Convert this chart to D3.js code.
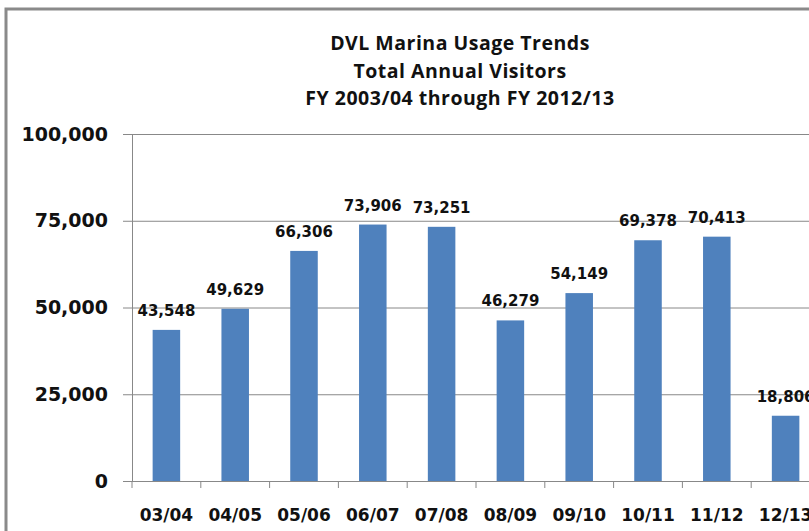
<!DOCTYPE html>
<html>
<head>
<meta charset="utf-8">
<script src="https://cdn.jsdelivr.net/npm/d3@7"></script>
<style>
  body { margin: 0; background: #fff; }
  svg { display: block; }
</style>
</head>
<body>
<div id="chart"></div>
<script>
// chart data
const years = ["03/04", "04/05", "05/06", "06/07", "07/08", "08/09", "09/10", "10/11", "11/12", "12/13"];
const visitors = [43548, 49629, 66306, 73906, 73251, 46279, 54149, 69378, 70413, 18806];
const yTicks = [0, 25000, 50000, 75000, 100000];
const titleLines = ["DVL Marina Usage Trends", "Total Annual Visitors", "FY 2003/04 through FY 2012/13"];

const width = 809, height = 531;
const margin = {top: 134, left: 132, bottom: 50};
const plotWidth = 688,
    plotHeight = height - margin.top - margin.bottom;

const svg = d3.select("#chart").append("svg")
    .attr("width", width)
    .attr("height", height);

// outer chart frame (runs off the right and bottom edge)
svg.append("rect")
    .attr("x", 6).attr("y", 9)
    .attr("width", width + 20).attr("height", height + 20)
    .attr("fill", "none")
    .attr("stroke", "#8a8a8a")
    .attr("stroke-width", 3);

// title
svg.append("g").selectAll("text")
    .data(titleLines)
    .join("text")
    .attr("x", 460)
    .attr("y", (d, i) => 50 + i * 27.5)
    .attr("text-anchor", "middle")
    .style("font-family", "'Open Sans', sans-serif")
    .style("font-weight", "bold")
    .style("font-size", "19.5px")
    .style("letter-spacing", "0.5px")
    .style("fill", "#111")
    .text(d => d);

const x = d3.scaleBand()
    .domain(years)
    .range([0, plotWidth])
    .paddingInner(0.6)
    .paddingOuter(0.3);

const y = d3.scaleLinear()
    .domain([0, 100000])
    .range([plotHeight, 0]);

const g = svg.append("g")
    .attr("transform", "translate(" + margin.left + "," + margin.top + ")");

// horizontal gridlines + y axis
const yAxis = g.append("g")
    .call(d3.axisLeft(y).tickValues(yTicks).tickSize(-plotWidth).tickPadding(24)
        .tickFormat(d3.format(",")));
yAxis.select(".domain").attr("stroke", "#888");
yAxis.selectAll(".tick line")
    .attr("stroke", "#888")
    .attr("x1", -9);
yAxis.selectAll("text")
    .style("font-family", "'DejaVu Sans', sans-serif")
    .style("font-weight", "bold")
    .style("font-size", "19px")
    .style("fill", "#111");

// x axis with ticks between categories
const xAxis = g.append("g")
    .attr("transform", "translate(0," + plotHeight + ")")
    .call(d3.axisBottom(x).tickSize(0).tickPadding(28));
xAxis.select(".domain").attr("stroke", "#888");
xAxis.selectAll("text")
    .style("font-family", "'DejaVu Sans', sans-serif")
    .style("font-weight", "bold")
    .style("font-size", "17px")
    .style("fill", "#111");

const step = x.step();
xAxis.selectAll(".sep")
    .data(d3.range(years.length + 1))
    .join("line")
    .attr("class", "sep")
    .attr("x1", d => d * step).attr("x2", d => d * step)
    .attr("y1", 0).attr("y2", 7)
    .attr("stroke", "#888");

// bars
g.selectAll(".bar")
    .data(years)
    .join("rect")
    .attr("class", "bar")
    .attr("x", d => x(d))
    .attr("width", x.bandwidth())
    .attr("y", (d, i) => y(visitors[i]))
    .attr("height", (d, i) => plotHeight - y(visitors[i]))
    .attr("fill", "#4f81bd");

// value labels
g.selectAll(".label")
    .data(years)
    .join("text")
    .attr("class", "label")
    .attr("x", d => x(d) + x.bandwidth() / 2)
    .attr("y", (d, i) => y(visitors[i]) - 14)
    .attr("text-anchor", "middle")
    .style("font-family", "'DejaVu Sans', sans-serif")
    .style("font-weight", "bold")
    .style("font-size", "15px")
    .style("fill", "#111")
    .text((d, i) => d3.format(",")(visitors[i]));
</script>
</body>
</html>
